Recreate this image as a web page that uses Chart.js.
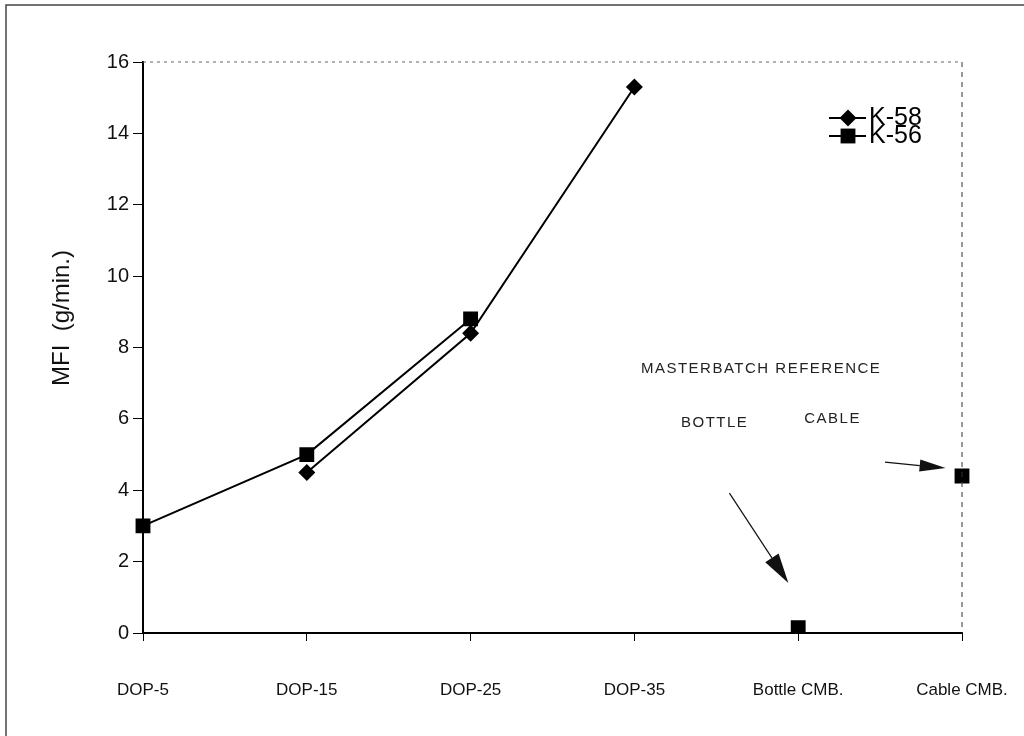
<!DOCTYPE html>
<html lang="en">
  <head>
    <meta charset="UTF-8" />
    <title>MFI chart</title>
    <script src="https://cdn.jsdelivr.net/npm/chart.js"></script>
    <style>
      html, body { margin: 0; padding: 0; background: #fff; }
      #wrap { width: 1024px; height: 736px; }
    </style>
  </head>
  <body>
    <div id="wrap"><canvas id="mfiChart"></canvas></div>
    <script>
      // data
      const categories = ["DOP-5", "DOP-15", "DOP-25", "DOP-35", "Bottle CMB.", "Cable CMB."];
      const k58 = [null, 4.5, 8.4, 15.3, null, null];
      const k56 = [3, 5, 8.8, null, null, null];
      const masterbatchRef = [null, null, null, null, 0.15, 4.4];
      const yTicks = [0, 2, 4, 6, 8, 10, 12, 14, 16];

      const FONT = "'Liberation Sans', Arial, sans-serif";

      // notes drawn in data units (x = category index, y = MFI)
      const notes = [
        { text: "MASTERBATCH REFERENCE", x: 3.04, y: 7.4, align: "left" },
        { text: "BOTTLE", x: 3.49, y: 5.9, align: "center" },
        { text: "CABLE", x: 4.21, y: 6.0, align: "center" },
      ];
      const arrows = [
        { from: [3.58, 3.92], to: [3.94, 1.4], head: 30, half: 8 },
        { from: [4.53, 4.79], to: [4.9, 4.62], head: 26, half: 6 },
      ];

      function arrow(ctx, x1, y1, x2, y2, head, half) {
        const a = Math.atan2(y2 - y1, x2 - x1);
        const bx = x2 - head * Math.cos(a), by = y2 - head * Math.sin(a);
        ctx.beginPath();
        ctx.moveTo(x1, y1);
        ctx.lineTo(bx, by);
        ctx.stroke();
        ctx.beginPath();
        ctx.moveTo(x2, y2);
        ctx.lineTo(bx + half * Math.sin(a), by - half * Math.cos(a));
        ctx.lineTo(bx - half * Math.sin(a), by + half * Math.cos(a));
        ctx.closePath();
        ctx.fill();
      }

      const extras = {
        id: "extras",
        beforeDraw(chart) {
          const ctx = chart.ctx;
          ctx.save();
          ctx.fillStyle = "#fff";
          ctx.fillRect(0, 0, chart.width, chart.height);
          // outer frame
          ctx.strokeStyle = "#444";
          ctx.lineWidth = 1.5;
          ctx.beginPath();
          ctx.moveTo(6, chart.height);
          ctx.lineTo(6, 5);
          ctx.lineTo(chart.width, 5);
          ctx.stroke();
          ctx.restore();
        },
        afterDraw(chart) {
          const { ctx, chartArea: a, scales } = chart;
          const xs = scales.x, ys = scales.y;
          ctx.save();
          // dotted top and right edges of the plot
          ctx.strokeStyle = "#666";
          ctx.lineWidth = 1;
          ctx.setLineDash([3, 4]);
          ctx.beginPath();
          ctx.moveTo(a.left, a.top);
          ctx.lineTo(a.right, a.top);
          ctx.stroke();
          ctx.strokeStyle = "#333";
          ctx.setLineDash([5, 5]);
          ctx.beginPath();
          ctx.moveTo(a.right, a.top);
          ctx.lineTo(a.right, a.bottom);
          ctx.stroke();
          ctx.setLineDash([]);

          // y axis title
          ctx.fillStyle = "#111";
          ctx.font = "24px " + FONT;
          ctx.translate(62, 318);
          ctx.rotate(-Math.PI / 2);
          ctx.textAlign = "center";
          ctx.textBaseline = "middle";
          ctx.fillText("MFI  (g/min.)", 0, 0);
          ctx.setTransform(1, 0, 0, 1, 0, 0);

          // legend: line through marker
          const legendRows = [0, 1];
          legendRows.forEach((i, r) => {
            const ds = chart.data.datasets[i];
            const y = 118 + r * 18;
            ctx.strokeStyle = "#000";
            ctx.lineWidth = 2;
            ctx.beginPath();
            ctx.moveTo(829, y);
            ctx.lineTo(866, y);
            ctx.stroke();
            ctx.fillStyle = "#000";
            Chart.helpers.drawPoint(ctx, { pointStyle: ds.pointStyle, radius: ds.pointRadius, rotation: 0 }, 848, y);
            ctx.font = "25px " + FONT;
            ctx.textAlign = "left";
            ctx.textBaseline = "middle";
            ctx.fillText(ds.label, 869, y);
          });

          // masterbatch notes
          ctx.fillStyle = "#222";
          ctx.font = "15px " + FONT;
          ctx.letterSpacing = "1.5px";
          ctx.textBaseline = "middle";
          notes.forEach((n) => {
            ctx.textAlign = n.align;
            ctx.fillText(n.text, xs.getPixelForValue(n.x), ys.getPixelForValue(n.y));
          });
          ctx.letterSpacing = "0px";
          ctx.strokeStyle = "#111";
          ctx.fillStyle = "#111";
          ctx.lineWidth = 1.2;
          arrows.forEach((ar) => {
            arrow(
              ctx,
              xs.getPixelForValue(ar.from[0]), ys.getPixelForValue(ar.from[1]),
              xs.getPixelForValue(ar.to[0]), ys.getPixelForValue(ar.to[1]),
              ar.head, ar.half
            );
          });
          ctx.restore();
        },
      };

      const ctx = document.getElementById("mfiChart").getContext("2d");
      const mfiChart = new Chart(ctx, {
        type: "line",
        data: {
          labels: categories,
          datasets: [
            {
              label: "K-58",
              data: k58,
              borderColor: "#000",
              backgroundColor: "#000",
              borderWidth: 2,
              pointStyle: "rectRot",
              pointRadius: 8.5,
              pointBorderWidth: 0,
            },
            {
              label: "K-56",
              data: k56,
              borderColor: "#000",
              backgroundColor: "#000",
              borderWidth: 2,
              pointStyle: "rect",
              pointRadius: 10.5,
              pointBorderWidth: 0,
            },
            {
              label: "K-56 reference",
              data: masterbatchRef,
              showLine: false,
              borderColor: "#000",
              backgroundColor: "#000",
              pointStyle: "rect",
              pointRadius: 10.5,
              pointBorderWidth: 0,
            },
          ],
        },
        options: {
          responsive: true,
          maintainAspectRatio: false,
          animation: false,
          spanGaps: false,
          layout: { padding: { top: 62, right: 62, left: 0, bottom: 0 } },
          scales: {
            x: {
              offset: false,
              grid: { drawOnChartArea: false, drawTicks: true, tickLength: 8, color: "#000" },
              border: { color: "#000", width: 2 },
              ticks: { color: "#111", font: { family: FONT, size: 17 }, padding: 39, maxRotation: 0, autoSkip: false },
              afterFit(scale) {
                scale.height = 103;
                scale.paddingLeft = 0;
                scale.paddingRight = 0;
              },
            },
            y: {
              min: 0,
              max: 16,
              afterBuildTicks(scale) { scale.ticks = yTicks.map((v) => ({ value: v })); },
              grid: { drawOnChartArea: false, drawTicks: true, tickLength: 10, color: "#000" },
              border: { color: "#000", width: 2 },
              ticks: { color: "#111", font: { family: FONT, size: 20 }, padding: 4 },
              afterFit(scale) {
                scale.width = 143;
                scale.paddingTop = 0;
                scale.paddingBottom = 0;
              },
            },
          },
          plugins: {
            legend: { display: false },
            tooltip: { enabled: false },
          },
        },
        plugins: [extras],
      });
    </script>
  </body>
</html>
